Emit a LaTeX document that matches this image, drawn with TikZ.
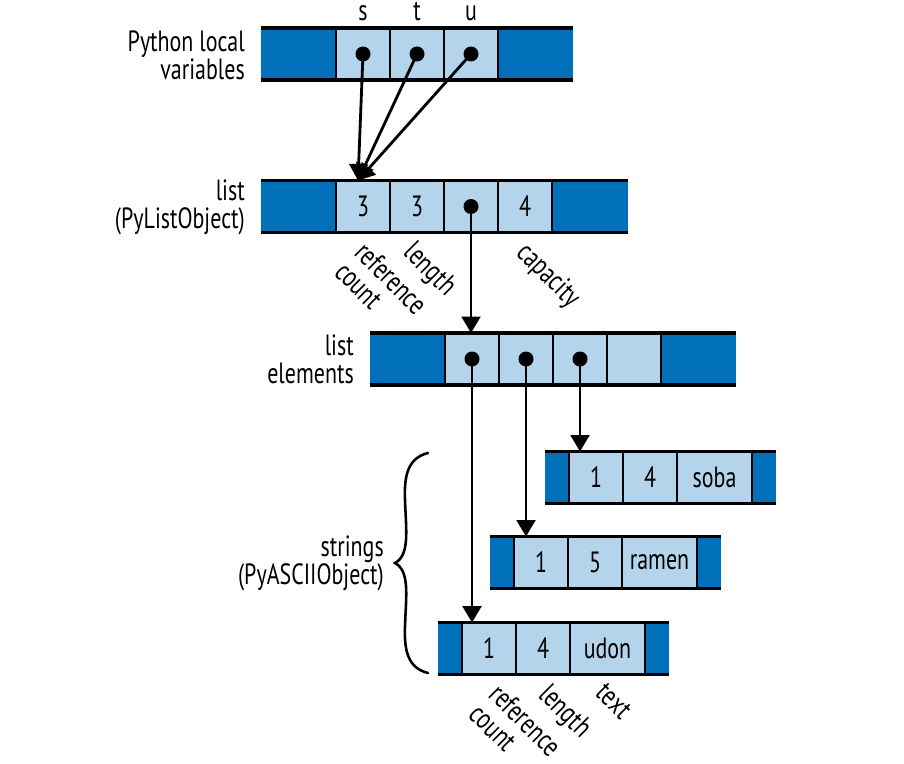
\documentclass[tikz,border=0pt]{standalone}
\usepackage{fontspec}
\setmainfont{PT Sans}[FakeStretch=0.75]
\usetikzlibrary{positioning,arrows.meta}
\definecolor{pyblue}{RGB}{0,112,186}
\definecolor{pylight}{RGB}{179,212,234}

\begin{document}
\begin{tikzpicture}[x=0.03cm,y=-0.03cm,
  font=\fontsize{25}{24}\selectfont,
  block/.style={fill=pyblue,inner sep=0pt,outer sep=0pt,minimum height=1.56cm},
  cellbox/.style={draw,line width=2.4pt,fill=pylight,inner sep=0pt,outer sep=0pt,
    minimum width=1.62cm,minimum height=1.56cm},
  wide/.style={minimum width=2.25cm},
  narrow/.style={minimum width=0.72cm},
  rule/.style={line width=2.6pt},
  ptr/.style={line width=2.4pt,-{Triangle[length=14pt,width=16pt]}},
  dot/.style={circle,fill=black,inner sep=0pt,minimum size=0.45cm},
  sidelabel/.style={align=right,anchor=east,inner sep=0pt},
  fieldlabel/.style={align=left,anchor=north west,rotate=-45,inner sep=0pt}]
  \useasboundingbox (0,0) rectangle (904,764);

  % Python local variables s, t, u
  \node[block,wide,anchor=west] (v0) at (261,54) {};
  \node[block,wide,anchor=east] (v4) at (573,54) {};
  \foreach \i [evaluate=\i as \j using int(\i-1)] in {1,2,3}
    \node[cellbox,right=0pt of v\j] (v\i) {};
  \draw[rule] (v0.north west) -- (v4.north east) (v0.south west) -- (v4.south east);
  \foreach \i/\n in {1/s,2/t,3/u}{
    \node[dot] (\n dot) at (v\i) {};
    \node[anchor=base,inner sep=0pt] (\n name) at ([yshift=0.21cm]v\i.north) {\n};
  }
  \node[sidelabel] (lvars) at (245,55) {Python local\\variables};

  % the list object
  \node[block,wide,anchor=west] (l0) at (261,206.5) {};
  \node[block,wide,anchor=east] (l5) at (628,206.5) {};
  \foreach \i/\t [evaluate=\i as \j using int(\i-1)] in {1/3,2/3,3/,4/4}
    \node[cellbox,right=0pt of l\j] (l\i) {\t};
  \draw[rule] (l0.north west) -- (l5.north east) (l0.south west) -- (l5.south east);
  \node[sidelabel] (llist) at (245,207) {list\\(PyListObject)};
  \node[fieldlabel] (lrc) at ([xshift=0.15cm,yshift=-0.2cm]l1.south) {reference\\count};
  \node[fieldlabel] (llen) at ([xshift=0cm,yshift=-0.2cm]l2.south) {length};
  \node[fieldlabel] (lcap) at ([xshift=0.15cm,yshift=-0.2cm]l4.south) {capacity};

  % all three names point at the same list
  \coordinate (lhit) at ([xshift=-0.15cm]l1.north);
  \foreach \n in {s,t,u}
    \draw[ptr] (\n dot.center) -- (lhit);

  % list elements
  \node[block,wide,anchor=west] (e0) at (370,359) {};
  \node[block,wide,anchor=east] (e5) at (736,359) {};
  \foreach \i [evaluate=\i as \j using int(\i-1)] in {1,2,3,4}
    \node[cellbox,right=0pt of e\j] (e\i) {};
  \draw[rule] (e0.north west) -- (e5.north east) (e0.south west) -- (e5.south east);
  \node[sidelabel] (lelem) at (354,359) {list\\elements};
  \node[dot] (ldot) at (l3) {};
  \draw[ptr] (ldot.center) -- (ldot |- e1.north);

  % the strings
  \foreach \w/\y/\x/\n in {soba/477.5/545/4,ramen/562.5/490/5,udon/648.5/438/4}{
    \node[block,narrow,anchor=west] (\w0) at (\x,\y) {};
    \node[block,narrow,anchor=east] (\w4) at ({\x+231},\y) {};
    \node[cellbox,right=0pt of \w0] (\w1) {1};
    \node[cellbox,right=0pt of \w1] (\w2) {\n};
    \node[cellbox,wide,right=0pt of \w2] (\w3) {\w};
    \draw[rule] (\w0.north west) -- (\w4.north east) (\w0.south west) -- (\w4.south east);
  }
  \foreach \i/\w in {1/udon,2/ramen,3/soba}{
    \node[dot] (edot\i) at (e\i) {};
    \draw[ptr] (edot\i.center) -- (edot\i |- \w1.north);
  }
  \node[fieldlabel] (urc) at ([xshift=0.4cm,yshift=-0.2cm]udon1.south) {reference\\count};
  \node[fieldlabel] (ulen) at ([xshift=0.27cm,yshift=-0.2cm]udon2.south) {length};
  \node[fieldlabel] (utxt) at ([xshift=0cm,yshift=-0.2cm]udon3.south) {text};

  % brace round the strings
  \draw[line width=2.2pt,line cap=round]
    (428,453) .. controls (408,458) and (404,475) .. (405,500)
    .. controls (406,530) and (410,555) .. (395,563)
    .. controls (410,571) and (406,596) .. (405,626)
    .. controls (404,651) and (408,668) .. (428,673);
  \node[sidelabel] (lstr) at (384,563) {strings\\(PyASCIIObject)};
\end{tikzpicture}
\end{document}
